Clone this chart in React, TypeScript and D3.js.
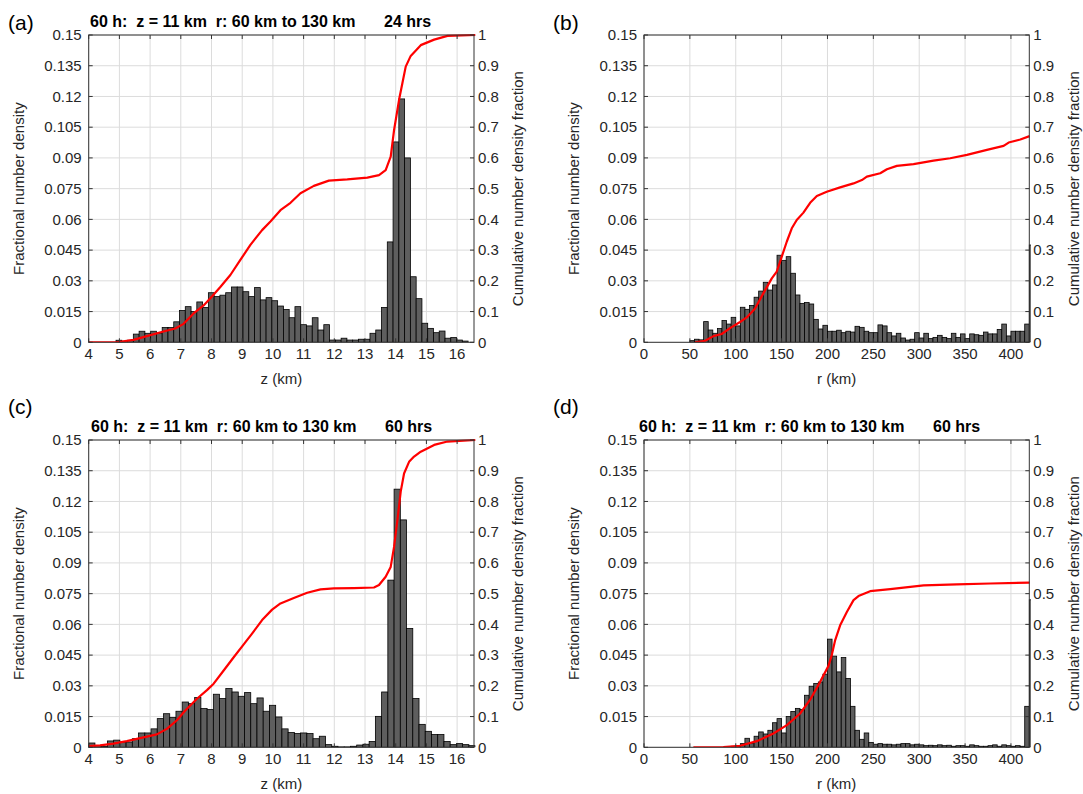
import React from 'react';
import * as d3 from 'd3';

const FONT = '"Liberation Sans", Arial, Helvetica, sans-serif';

// ---------- ticks ----------
const zTicks = [4, 5, 6, 7, 8, 9, 10, 11, 12, 13, 14, 15, 16];
const rTicks = [0, 50, 100, 150, 200, 250, 300, 350, 400];
const densityTicks = [0, 0.015, 0.03, 0.045, 0.06, 0.075, 0.09, 0.105, 0.12, 0.135, 0.15];
const densityTickLabels = ['0', '0.015', '0.03', '0.045', '0.06', '0.075', '0.09', '0.105', '0.12', '0.135', '0.15'];
const cumTicks = [0, 0.1, 0.2, 0.3, 0.4, 0.5, 0.6, 0.7, 0.8, 0.9, 1];
const cumTickLabels = ['0', '0.1', '0.2', '0.3', '0.4', '0.5', '0.6', '0.7', '0.8', '0.9', '1'];

// ---------- text ----------
const titleMain = '60 h:  z = 11 km  r: 60 km to 130 km';
const titleHrs24 = '24 hrs';
const titleHrs60 = '60 hrs';
const yLabelLeft = 'Fractional number density';
const yLabelRight = 'Cumulative number density fraction';

// ---------- (a) z histogram, 24 hrs ----------
const zBinStart24 = 4.89;
const zBinWidth24 = 0.188;
const zDensity24 = [
  0.001, 0.0005, 0.001, 0.004, 0.0054, 0.0044, 0.0054, 0.0044, 0.0072, 0.0072,
  0.010, 0.0155, 0.0174, 0.015, 0.0197, 0.017, 0.0242, 0.0223, 0.023, 0.0242,
  0.027, 0.027, 0.0247, 0.0223, 0.0267, 0.0207, 0.0218, 0.0203, 0.0177, 0.016,
  0.012, 0.0174, 0.0086, 0.008, 0.012, 0.006, 0.0086, 0.0011, 0.0011, 0.002,
  0.0011, 0.0011, 0.0015, 0.0015, 0.0044, 0.006, 0.017, 0.049, 0.0978, 0.1188,
  0.090, 0.032, 0.0213, 0.0093, 0.0068, 0.0047, 0.0055, 0.002, 0.0023, 0.0011,
  0.0006,
];
const zCum24: [number, number][] = [
  [4.0, 0], [4.914, 0], [5.458, 0.008], [5.893, 0.02], [6.437, 0.035], [6.818, 0.045],
  [7.09, 0.06], [7.416, 0.094], [7.743, 0.12], [8.015, 0.149], [8.287, 0.18],
  [8.614, 0.219], [8.94, 0.268], [9.267, 0.317], [9.648, 0.365], [9.92, 0.393],
  [10.246, 0.43], [10.573, 0.454], [10.898, 0.485], [11.334, 0.509], [11.823, 0.526],
  [12.422, 0.53], [13.075, 0.536], [13.456, 0.544], [13.673, 0.56], [13.837, 0.604],
  [13.946, 0.69], [14.109, 0.789], [14.217, 0.843], [14.326, 0.897], [14.489, 0.932],
  [14.816, 0.967], [15.252, 0.985], [15.686, 0.997], [16.6, 1.0],
];

// ---------- (b) r histogram, 24 hrs ----------
const rBinStart = 50;
const rBinWidth = 5;
const rDensity24 = [
  0.0008, 0.0015, 0.0012, 0.0101, 0.006, 0.0044, 0.0067, 0.0106, 0.0089, 0.0122,
  0.008, 0.0171, 0.0161, 0.018, 0.022, 0.025, 0.0293, 0.0255, 0.028, 0.0425,
  0.040, 0.0418, 0.0337, 0.0231, 0.019, 0.0194, 0.0187, 0.0112, 0.0065, 0.0083,
  0.0054, 0.0054, 0.0059, 0.0047, 0.0054, 0.005, 0.0078, 0.0073, 0.0054, 0.0047,
  0.0047, 0.0085, 0.008, 0.0047, 0.0031, 0.0044, 0.0021, 0.0011, 0.0015, 0.0047,
  0.0021, 0.0044, 0.0018, 0.0024, 0.0034, 0.0024, 0.0018, 0.0044, 0.0024, 0.0041,
  0.0018, 0.0041, 0.0037, 0.0034, 0.005, 0.0041, 0.0041, 0.0063, 0.0089, 0.0031,
  0.0054, 0.0054, 0.0054, 0.0089, 0.0475,
];
const rCum24: [number, number][] = [
  [55.7, 0], [66.6, 0.005], [75.7, 0.02], [84.7, 0.027], [93.8, 0.046], [104.7, 0.066],
  [112.0, 0.081], [121.1, 0.11], [130.2, 0.16], [139.3, 0.208], [144.7, 0.23],
  [150.2, 0.279], [155.7, 0.328], [161.1, 0.371], [166.5, 0.398], [173.8, 0.422],
  [181.1, 0.454], [188.4, 0.476], [199.2, 0.49], [213.8, 0.504], [228.4, 0.517],
  [237.5, 0.528], [242.9, 0.539], [257.5, 0.55], [264.8, 0.563], [275.6, 0.574],
  [293.8, 0.58], [315.6, 0.591], [333.8, 0.599], [352.0, 0.61], [373.8, 0.626],
  [392.0, 0.639], [397.5, 0.65], [410.2, 0.66], [420.3, 0.671],
];

// ---------- (c) z histogram, 60 hrs ----------
const zBinStart60 = 4.0;
const zBinWidth60 = 0.203;
const zDensity60 = [
  0.0021, 0.0008, 0.0005, 0.0031, 0.0035, 0.0025, 0.0026, 0.0042, 0.007, 0.007,
  0.009, 0.014, 0.0164, 0.0145, 0.0176, 0.0221, 0.0213, 0.0243, 0.0189, 0.0184,
  0.0259, 0.0238, 0.0287, 0.027, 0.0249, 0.0267, 0.0213, 0.0241, 0.0176, 0.0205,
  0.0148, 0.009, 0.0072, 0.0067, 0.007, 0.0067, 0.0042, 0.0054, 0.0013, 0.0005,
  0.0002, 0.0002, 0.0005, 0.0011, 0.0015, 0.0028, 0.0151, 0.027, 0.0816, 0.126,
  0.111, 0.058, 0.0238, 0.0112, 0.0078, 0.0062, 0.0062, 0.0028, 0.0013, 0.0018,
  0.0013, 0.0008,
];
const zCum60: [number, number][] = [
  [4.0, 0.004], [4.37, 0.0065], [4.805, 0.012], [5.241, 0.02], [5.676, 0.03],
  [6.219, 0.042], [6.546, 0.06], [6.873, 0.088], [7.145, 0.12], [7.526, 0.158],
  [7.852, 0.186], [8.07, 0.207], [8.396, 0.25], [8.723, 0.293], [9.049, 0.335],
  [9.321, 0.37], [9.648, 0.414], [9.974, 0.448], [10.246, 0.468], [10.681, 0.486],
  [11.117, 0.503], [11.551, 0.514], [11.987, 0.517], [12.64, 0.518], [13.292, 0.52],
  [13.456, 0.528], [13.673, 0.555], [13.837, 0.587], [13.946, 0.652], [14.055, 0.739],
  [14.163, 0.832], [14.272, 0.891], [14.435, 0.929], [14.598, 0.946], [14.816, 0.962],
  [15.252, 0.984], [15.686, 0.995], [16.6, 1.0],
];

// ---------- (d) r histogram, 60 hrs ----------
const rDensity60 = [
  0, 0, 0, 0, 0, 0, 0, 0, 0,
  0.0005, 0.0005, 0.0018, 0.0044, 0.0018, 0.0054, 0.0075, 0.0065, 0.0083, 0.012,
  0.014, 0.007, 0.015, 0.0175, 0.019, 0.0185, 0.0254, 0.0298, 0.0311, 0.0319,
  0.0357, 0.0528, 0.0445, 0.0368, 0.0438, 0.0336, 0.020, 0.0083, 0.0039, 0.007,
  0.0024,
  0.0015, 0.0018, 0.0015, 0.0015, 0.0012, 0.0015, 0.0018, 0.0018, 0.0012, 0.0015,
  0.0012, 0.0008, 0.001, 0.0008, 0.0012, 0.0008, 0.001, 0.0005, 0.0008, 0.0008,
  0.0005, 0.0012, 0.0008, 0.0005, 0.0005, 0.0008, 0.0012, 0.0005, 0.0012, 0.0008,
  0.0005, 0.0008, 0.0005,
  0.02, 0.072,
];
const rCum60: [number, number][] = [
  [53.8, 0], [86.5, 0.001], [104.7, 0.005], [123.0, 0.02], [141.1, 0.045],
  [155.7, 0.072], [170.2, 0.11], [181.1, 0.155], [192.0, 0.213], [201.1, 0.265],
  [204.7, 0.3], [208.4, 0.349], [213.8, 0.397], [221.1, 0.44], [228.4, 0.479],
  [233.8, 0.492], [246.5, 0.508], [268.4, 0.515], [304.8, 0.527], [341.1, 0.53],
  [377.5, 0.533], [420.3, 0.536],
];

type PanelCfg = {
  key: string;
  letter: string;
  letterX: number;
  letterY: number;
  left: number;
  top: number;
  width: number;
  height: number;
  xDomain: [number, number];
  xTicks: number[];
  xLabel: string;
  binStart: number;
  binWidth: number;
  density: number[];
  cum: [number, number][];
  title?: string;
  hrs?: string;
  titleX?: number;
};

const TEXT = '#262626';
const GRID = '#dcdcdc';
const BOX = '#333333';
const TICK = 4;
const FS = 15;

function Panel({ c }: { c: PanelCfg }) {
  const right = c.left + c.width;
  const bottom = c.top + c.height;
  const x = d3.scaleLinear().domain(c.xDomain).range([c.left, right]);
  const yL = d3.scaleLinear().domain([0, 0.15]).range([bottom, c.top]);
  const yR = d3.scaleLinear().domain([0, 1]).range([bottom, c.top]);
  const line = d3
    .line<[number, number]>()
    .x((d) => x(d[0]))
    .y((d) => yR(d[1]));
  const clipId = 'clip-' + c.key;
  const bars = c.density
    .map((v, i) => {
      const x0 = x(c.binStart + i * c.binWidth);
      const x1 = x(c.binStart + (i + 1) * c.binWidth);
      return { v, x0, x1 };
    })
    .filter((b) => b.v > 0);

  return (
    <g>
      <defs>
        <clipPath id={clipId}>
          <rect x={c.left} y={c.top - 3} width={c.width + 1.6} height={c.height + 3} />
        </clipPath>
      </defs>
      {/* grid */}
      {c.xTicks.map((t) => (
        <line key={'gx' + t} x1={x(t)} x2={x(t)} y1={c.top} y2={bottom} stroke={GRID} strokeWidth={1} />
      ))}
      {densityTicks.map((t) => (
        <line key={'gy' + t} x1={c.left} x2={right} y1={yL(t)} y2={yL(t)} stroke={GRID} strokeWidth={1} />
      ))}
      {/* bars */}
      <g clipPath={`url(#${clipId})`}>
        {bars.map((b, i) => (
          <rect
            key={i}
            x={b.x0}
            y={yL(b.v)}
            width={b.x1 - b.x0}
            height={bottom - yL(b.v)}
            fill="#5e5e5e"
            stroke="#000"
            strokeWidth={0.8}
          />
        ))}
      </g>
      {/* cumulative line */}
      <g clipPath={`url(#${clipId})`}>
        <path d={line(c.cum) || ''} fill="none" stroke="#ff0000" strokeWidth={2.2} strokeLinejoin="round" />
      </g>
      {/* box */}
      <rect x={c.left} y={c.top} width={c.width} height={c.height} fill="none" stroke={BOX} strokeWidth={1} />
      {/* x ticks bottom and top */}
      {c.xTicks.map((t) => (
        <g key={'xt' + t}>
          <line x1={x(t)} x2={x(t)} y1={bottom} y2={bottom - TICK} stroke={BOX} />
          <line x1={x(t)} x2={x(t)} y1={c.top} y2={c.top + TICK} stroke={BOX} />
          <text x={x(t)} y={bottom + 16.5} textAnchor="middle" fontSize={FS} fill={TEXT} fontFamily={FONT}>
            {t}
          </text>
        </g>
      ))}
      {/* left ticks */}
      {densityTicks.map((t, i) => (
        <g key={'yl' + t}>
          <line x1={c.left} x2={c.left + TICK} y1={yL(t)} y2={yL(t)} stroke={BOX} />
          <text x={c.left - 7} y={yL(t)} dy="0.35em" textAnchor="end" fontSize={FS} fill={TEXT} fontFamily={FONT}>
            {densityTickLabels[i]}
          </text>
        </g>
      ))}
      {/* right ticks */}
      {cumTicks.map((t, i) => (
        <g key={'yr' + t}>
          <line x1={right} x2={right - TICK} y1={yR(t)} y2={yR(t)} stroke={BOX} />
          <text x={right + 4} y={yR(t)} dy="0.35em" textAnchor="start" fontSize={FS} fill={TEXT} fontFamily={FONT}>
            {cumTickLabels[i]}
          </text>
        </g>
      ))}
      {/* axis labels */}
      <text x={(c.left + right) / 2} y={bottom + 42} textAnchor="middle" fontSize={FS} fill={TEXT} fontFamily={FONT}>
        {c.xLabel}
      </text>
      <text
        transform={`translate(${c.left - 70},${(c.top + bottom) / 2}) rotate(-90)`}
        textAnchor="middle"
        dy="0.35em"
        fontSize={FS}
        fill={TEXT}
        fontFamily={FONT}
      >
        {yLabelLeft}
      </text>
      <text
        transform={`translate(${right + 44},${(c.top + bottom) / 2}) rotate(-90)`}
        textAnchor="middle"
        dy="0.35em"
        fontSize={FS}
        fill={TEXT}
        fontFamily={FONT}
      >
        {yLabelRight}
      </text>
      {/* title */}
      {c.title && (
        <g fontFamily={FONT} fontWeight="bold" fontSize={16} fill="#000">
          <text x={c.titleX} y={c.top - 8} style={{ whiteSpace: 'pre' }}>
            {c.title}
          </text>
          <text x={(c.titleX || 0) + 294} y={c.top - 8}>
            {c.hrs}
          </text>
        </g>
      )}
      {/* panel letter */}
      <text x={c.letterX} y={c.letterY} fontSize={21} fill="#000" fontFamily={FONT}>
        {c.letter}
      </text>
    </g>
  );
}

const panels: PanelCfg[] = [
  {
    key: 'a', letter: '(a)', letterX: 8, letterY: 30,
    left: 88.7, top: 35, width: 385.3, height: 307.3,
    xDomain: [4, 16.55], xTicks: zTicks, xLabel: 'z (km)',
    binStart: zBinStart24, binWidth: zBinWidth24, density: zDensity24, cum: zCum24,
    title: titleMain, hrs: titleHrs24, titleX: 90,
  },
  {
    key: 'b', letter: '(b)', letterX: 553, letterY: 30,
    left: 644, top: 35, width: 385.3, height: 307.3,
    xDomain: [0, 420], xTicks: rTicks, xLabel: 'r (km)',
    binStart: rBinStart, binWidth: rBinWidth, density: rDensity24, cum: rCum24,
  },
  {
    key: 'c', letter: '(c)', letterX: 8, letterY: 414,
    left: 88.7, top: 440, width: 385.3, height: 307.3,
    xDomain: [4, 16.55], xTicks: zTicks, xLabel: 'z (km)',
    binStart: zBinStart60, binWidth: zBinWidth60, density: zDensity60, cum: zCum60,
    title: titleMain, hrs: titleHrs60, titleX: 91,
  },
  {
    key: 'd', letter: '(d)', letterX: 553, letterY: 414,
    left: 644, top: 440, width: 385.3, height: 307.3,
    xDomain: [0, 420], xTicks: rTicks, xLabel: 'r (km)',
    binStart: rBinStart, binWidth: rBinWidth, density: rDensity60, cum: rCum60,
    title: titleMain, hrs: titleHrs60, titleX: 639,
  },
];

export default function App() {
  return (
    <svg
      width={1083}
      height={794}
      viewBox="0 0 1083 794"
      style={{ position: 'absolute', left: 0, top: 0, background: '#fff' }}
    >
      <rect x={0} y={0} width={1083} height={794} fill="#fff" />
      {panels.map((p) => (
        <Panel key={p.key} c={p} />
      ))}
    </svg>
  );
}
